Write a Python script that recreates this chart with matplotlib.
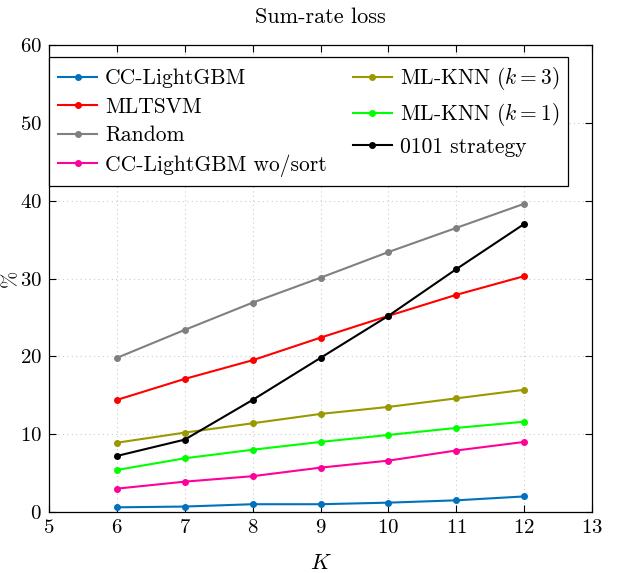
import matplotlib
matplotlib.use("Agg")
import matplotlib.pyplot as plt

plt.rcParams['font.family'] = 'serif'
plt.rcParams['font.serif'] = ['cmr10', 'DejaVu Serif']
plt.rcParams['mathtext.fontset'] = 'cm'
plt.rcParams['axes.formatter.use_mathtext'] = True
plt.rcParams['axes.unicode_minus'] = False

K = [6, 7, 8, 9, 10, 11, 12]
cc_lightgbm = [0.6, 0.7, 1.0, 1.0, 1.2, 1.5, 2.0]
mltsvm = [14.4, 17.1, 19.5, 22.4, 25.2, 27.9, 30.3]
random_ = [19.8, 23.4, 26.9, 30.1, 33.4, 36.5, 39.6]
cc_wo_sort = [3.0, 3.9, 4.6, 5.7, 6.6, 7.9, 9.0]
mlknn3 = [8.9, 10.2, 11.4, 12.6, 13.5, 14.6, 15.7]
mlknn1 = [5.4, 6.9, 8.0, 9.0, 9.9, 10.8, 11.6]
strategy0101 = [7.2, 9.3, 14.4, 19.8, 25.2, 31.2, 37.0]

series = [
    ("CC-LightGBM", cc_lightgbm, "#0072BD"),
    ("MLTSVM", mltsvm, "#FF0000"),
    ("Random", random_, "#808080"),
    ("CC-LightGBM wo/sort", cc_wo_sort, "#FF0099"),
    (r"ML-KNN ($k=3$)", mlknn3, "#999900"),
    (r"ML-KNN ($k=1$)", mlknn1, "#00FF00"),
    ("0101 strategy", strategy0101, "#000000"),
]

fig = plt.figure(figsize=(6.18, 5.73), dpi=100)
ax = fig.add_axes([49/618, 1-512/573, (592-49)/618, (512-45)/573])

for label, vals, color in series:
    ax.plot(K, vals, color=color, lw=1.5, marker='o', ms=4, label=label)

ax.set_xlim(5, 13)
ax.set_ylim(0, 60)
ax.set_xticks(range(5, 14))
ax.set_yticks(range(0, 61, 10))
ax.grid(True, linestyle=(0, (1, 3)), color='#cccccc', lw=0.8)
ax.tick_params(direction='in', top=True, right=True, labelsize=15, length=5, pad=5)
for s in ax.spines.values():
    s.set_linewidth(0.9)

ax.set_title("Sum-rate loss", fontsize=16, pad=16)
ax.set_xlabel("$K$", fontsize=16, labelpad=12)
ax.set_ylabel("%", fontsize=15, labelpad=0)

leg = ax.legend(loc='upper left', ncol=2, fontsize=15.5, frameon=True, fancybox=False,
                edgecolor='black', framealpha=1, bbox_to_anchor=(0.0, 0.975),
                borderaxespad=0.0, handlelength=1.85, columnspacing=1.2,
                handletextpad=0.35, labelspacing=0.42, borderpad=0.4)
leg.get_frame().set_linewidth(0.9)

fig.savefig("out.png", dpi=100)
